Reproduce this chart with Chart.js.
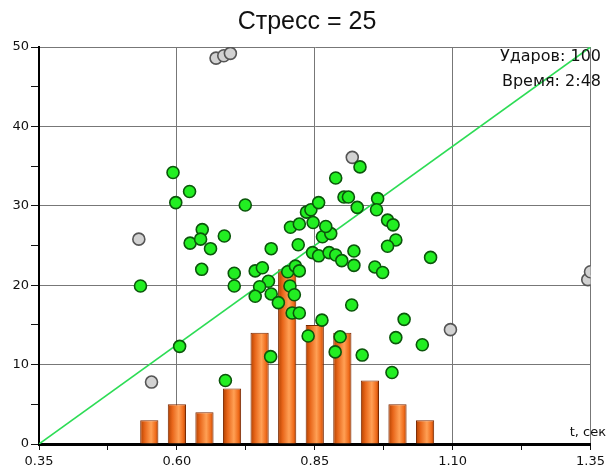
<!DOCTYPE html>
<html>
<head>
<meta charset="utf-8">
<script src="https://cdn.jsdelivr.net/npm/chart.js@4/dist/chart.umd.min.js"></script>
<style>
  html, body { margin: 0; padding: 0; background: #fff; }
</style>
</head>
<body>
<canvas id="stressChart" width="609" height="468"></canvas>
<script>
// гистограмма времени между ударами
const histX = [0.55, 0.60, 0.65, 0.70, 0.75, 0.80, 0.85, 0.90, 0.95, 1.00, 1.05];
const histCount = [3, 5, 4, 7, 14, 22, 15, 14, 8, 5, 3];

// удары в норме (зеленые)
const hitX = [0.593, 0.598, 0.623, 0.534, 0.605, 0.646, 0.624, 0.643, 0.661, 0.686,
  0.645, 0.724, 0.704, 0.704, 0.742, 0.755, 0.771, 0.766, 0.750, 0.742,
  0.771, 0.801, 0.815, 0.822, 0.806, 0.822, 0.820, 0.805, 0.813, 0.835,
  0.843, 0.857, 0.847, 0.864, 0.879, 0.870, 0.846, 0.857, 0.876, 0.888,
  0.899, 0.921, 0.921, 0.959, 0.973, 0.888, 0.932, 0.903, 0.911, 0.927,
  0.964, 0.962, 0.982, 0.992, 0.997, 0.982, 1.060, 0.688, 0.770, 0.784,
  0.809, 0.822, 0.838, 0.863, 0.917, 0.896, 0.887, 0.936, 1.012, 0.997,
  1.045, 0.990];
const hitY = [34.2, 30.4, 31.8, 19.9, 12.3, 27.0, 25.3, 25.8, 24.6, 26.2,
  22.0, 30.1, 21.5, 19.9, 21.8, 22.2, 24.6, 20.5, 19.8, 18.6,
  18.9, 21.7, 22.4, 21.8, 27.3, 27.7, 25.1, 19.9, 18.8, 29.2,
  29.5, 30.4, 27.9, 26.1, 26.5, 27.4, 24.1, 23.7, 24.1, 23.8,
  23.1, 22.5, 24.3, 22.3, 21.6, 33.5, 34.9, 31.1, 31.1, 29.8,
  30.9, 29.5, 28.2, 27.6, 25.7, 24.9, 23.5, 8.0, 11.0, 17.8,
  16.5, 16.5, 13.6, 15.6, 17.5, 13.5, 11.6, 11.2, 15.7, 13.4,
  12.5, 9.0];

// промахи (серые)
const missX = [0.531, 0.554, 0.918, 1.096, 0.671, 0.685, 0.697, 1.345, 1.350];
const missY = [25.8, 7.8, 36.1, 14.4, 48.6, 48.9, 49.2, 20.7, 21.7];

// линия тренда
const trendX = [0.35, 1.35];
const trendY = [0, 50];

const titleText = 'Стресс = 25';
const infoLines = ['Ударов: 100', 'Время: 2:48'];
const xAxisName = 't, сек';

const toPoints = (xs, ys) => xs.map((x, i) => ({ x: x, y: ys[i] }));

// оранжевый градиент по ширине столбика
function barFill(c) {
  const xs = c.chart.scales.x;
  if (!xs || !c.raw) return '#f07020';
  const px = xs.getPixelForValue(c.raw.x);
  const half = (xs.getPixelForValue(c.raw.x + 0.05) - px) * 0.33;
  if (!isFinite(px) || !isFinite(half) || half <= 0) return '#f07020';
  const g = c.chart.ctx.createLinearGradient(px - half, 0, px + half, 0);
  g.addColorStop(0, '#b04000');
  g.addColorStop(0.25, '#e8661a');
  g.addColorStop(0.6, '#ffa055');
  g.addColorStop(0.85, '#f06c1c');
  g.addColorStop(1, '#b04000');
  return g;
}

const textPlugin = {
  id: 'texts',
  afterDraw(chart) {
    const ctx = chart.ctx;
    ctx.save();
    ctx.fillStyle = '#111';
    ctx.textBaseline = 'middle';
    ctx.textAlign = 'center';
    ctx.font = '25px "Liberation Sans", Arial, sans-serif';
    ctx.fillText(titleText, 307, 22);
    ctx.textAlign = 'right';
    ctx.font = '16px "DejaVu Sans", Verdana, sans-serif';
    ctx.fillText(infoLines[0], 601, 57);
    ctx.fillText(infoLines[1], 601, 82);
    ctx.font = '13px "DejaVu Sans", Verdana, sans-serif';
    ctx.fillText(xAxisName, 606, 433);
    ctx.restore();
  }
};

const tickFont = { family: '"DejaVu Sans", Verdana, sans-serif', size: 13 };

const chart = new Chart(document.getElementById('stressChart').getContext('2d'), {
  data: {
    datasets: [
      {
        type: 'scatter',
        data: toPoints(hitX, hitY),
        backgroundColor: '#22ee22',
        borderColor: '#0b560b',
        borderWidth: 1.6,
        pointRadius: 6,
        clip: 0,
        order: 1
      },
      {
        type: 'scatter',
        data: toPoints(missX, missY),
        backgroundColor: '#d2d2d2',
        borderColor: '#555',
        borderWidth: 1.6,
        pointRadius: 6,
        clip: 0,
        order: 1
      },
      {
        type: 'line',
        data: toPoints(trendX, trendY),
        borderColor: '#2ddc55',
        borderWidth: 1.6,
        pointRadius: 0,
        fill: false,
        order: 2
      },
      {
        type: 'bar',
        data: toPoints(histX, histCount),
        backgroundColor: barFill,
        borderColor: '#7a2800',
        borderWidth: 1,
        barPercentage: 0.66,
        categoryPercentage: 1,
        order: 3
      }
    ]
  },
  options: {
    responsive: false,
    animation: false,
    layout: { padding: { top: 47, right: 17, left: 0, bottom: 0 } },
    plugins: {
      legend: { display: false },
      tooltip: { enabled: false }
    },
    scales: {
      x: {
        type: 'linear',
        min: 0.35,
        max: 1.35,
        offset: false,
        afterFit: s => { s.height = 24; },
        ticks: {
          stepSize: 0.125,
          autoSkip: false,
          maxRotation: 0,
          padding: 4,
          color: '#111',
          font: tickFont,
          callback: (v, i) => (i % 2 === 0 ? v.toFixed(2) : '')
        },
        grid: {
          offset: false,
          color: c => (c.index % 2 === 0 ? '#777' : 'rgba(0,0,0,0)'),
          tickColor: '#111',
          tickLength: 6,
          lineWidth: 1
        },
        border: { color: '#000', width: 3 }
      },
      y: {
        min: 0,
        max: 50,
        afterFit: s => { s.width = 39; },
        ticks: {
          stepSize: 5,
          padding: 2,
          color: '#111',
          font: tickFont,
          callback: v => (v % 10 === 0 ? v : '')
        },
        grid: {
          color: c => (c.tick && c.tick.value % 10 === 0 ? '#777' : 'rgba(0,0,0,0)'),
          tickColor: '#111',
          tickLength: 8,
          lineWidth: 1
        },
        border: { color: '#000', width: 2 }
      }
    }
  },
  plugins: [textPlugin]
});
// второй проход, чтобы градиент взял готовые размеры шкалы
chart.update('none');
</script>
</body>
</html>
